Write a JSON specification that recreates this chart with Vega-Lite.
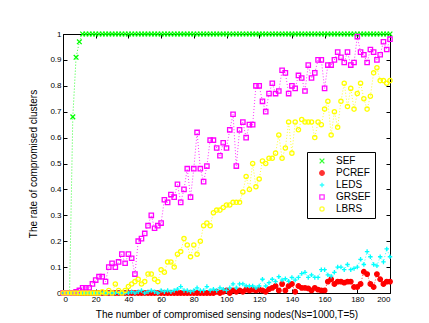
{
"$schema":"https://vega.github.io/schema/vega-lite/v6.json",
"width":327,"height":259,
"autosize":"none",
"padding":{"left":63,"top":34,"right":39,"bottom":30},
"background":"white",
"config":{"view":{"stroke":"black","strokeWidth":1},"font":"Liberation Sans",
"axis":{"labelFont":"Liberation Sans","titleFont":"Liberation Sans","labelColor":"black","titleColor":"black","tickColor":"black","labelFontSize":8,"titleFontSize":10,"titleFontWeight":"normal","domain":false,"grid":false}},
"datasets":{"d":[
{"x":0,"y":0,"s":"SEF"},{"x":2,"y":0,"s":"SEF"},{"x":4,"y":0,"s":"SEF"},{"x":6,"y":0.68,"s":"SEF"},{"x":8,"y":0.91,"s":"SEF"},{"x":10,"y":0.97,"s":"SEF"},{"x":12,"y":1,"s":"SEF"},{"x":14,"y":1,"s":"SEF"},{"x":16,"y":1,"s":"SEF"},{"x":18,"y":1,"s":"SEF"},{"x":20,"y":1,"s":"SEF"},{"x":22,"y":1,"s":"SEF"},{"x":24,"y":1,"s":"SEF"},{"x":26,"y":1,"s":"SEF"},{"x":28,"y":1,"s":"SEF"},{"x":30,"y":1,"s":"SEF"},{"x":32,"y":1,"s":"SEF"},{"x":34,"y":1,"s":"SEF"},{"x":36,"y":1,"s":"SEF"},{"x":38,"y":1,"s":"SEF"},{"x":40,"y":1,"s":"SEF"},{"x":42,"y":1,"s":"SEF"},{"x":44,"y":1,"s":"SEF"},{"x":46,"y":1,"s":"SEF"},{"x":48,"y":1,"s":"SEF"},{"x":50,"y":1,"s":"SEF"},{"x":52,"y":1,"s":"SEF"},{"x":54,"y":1,"s":"SEF"},{"x":56,"y":1,"s":"SEF"},{"x":58,"y":1,"s":"SEF"},{"x":60,"y":1,"s":"SEF"},{"x":62,"y":1,"s":"SEF"},{"x":64,"y":1,"s":"SEF"},{"x":66,"y":1,"s":"SEF"},{"x":68,"y":1,"s":"SEF"},{"x":70,"y":1,"s":"SEF"},{"x":72,"y":1,"s":"SEF"},{"x":74,"y":1,"s":"SEF"},{"x":76,"y":1,"s":"SEF"},{"x":78,"y":1,"s":"SEF"},{"x":80,"y":1,"s":"SEF"},{"x":82,"y":1,"s":"SEF"},{"x":84,"y":1,"s":"SEF"},{"x":86,"y":1,"s":"SEF"},{"x":88,"y":1,"s":"SEF"},{"x":90,"y":1,"s":"SEF"},{"x":92,"y":1,"s":"SEF"},{"x":94,"y":1,"s":"SEF"},{"x":96,"y":1,"s":"SEF"},{"x":98,"y":1,"s":"SEF"},{"x":100,"y":1,"s":"SEF"},{"x":102,"y":1,"s":"SEF"},{"x":104,"y":1,"s":"SEF"},{"x":106,"y":1,"s":"SEF"},{"x":108,"y":1,"s":"SEF"},{"x":110,"y":1,"s":"SEF"},{"x":112,"y":1,"s":"SEF"},{"x":114,"y":1,"s":"SEF"},{"x":116,"y":1,"s":"SEF"},{"x":118,"y":1,"s":"SEF"},{"x":120,"y":1,"s":"SEF"},{"x":122,"y":1,"s":"SEF"},{"x":124,"y":1,"s":"SEF"},{"x":126,"y":1,"s":"SEF"},{"x":128,"y":1,"s":"SEF"},{"x":130,"y":1,"s":"SEF"},{"x":132,"y":1,"s":"SEF"},{"x":134,"y":1,"s":"SEF"},{"x":136,"y":1,"s":"SEF"},{"x":138,"y":1,"s":"SEF"},{"x":140,"y":1,"s":"SEF"},{"x":142,"y":1,"s":"SEF"},{"x":144,"y":1,"s":"SEF"},{"x":146,"y":1,"s":"SEF"},{"x":148,"y":1,"s":"SEF"},{"x":150,"y":1,"s":"SEF"},{"x":152,"y":1,"s":"SEF"},{"x":154,"y":1,"s":"SEF"},{"x":156,"y":1,"s":"SEF"},{"x":158,"y":1,"s":"SEF"},{"x":160,"y":1,"s":"SEF"},{"x":162,"y":1,"s":"SEF"},{"x":164,"y":1,"s":"SEF"},{"x":166,"y":1,"s":"SEF"},{"x":168,"y":1,"s":"SEF"},{"x":170,"y":1,"s":"SEF"},{"x":172,"y":1,"s":"SEF"},{"x":174,"y":1,"s":"SEF"},{"x":176,"y":1,"s":"SEF"},{"x":178,"y":1,"s":"SEF"},{"x":180,"y":1,"s":"SEF"},{"x":182,"y":1,"s":"SEF"},{"x":184,"y":1,"s":"SEF"},{"x":186,"y":1,"s":"SEF"},{"x":188,"y":1,"s":"SEF"},{"x":190,"y":1,"s":"SEF"},{"x":192,"y":1,"s":"SEF"},{"x":194,"y":1,"s":"SEF"},{"x":196,"y":1,"s":"SEF"},{"x":198,"y":1,"s":"SEF"},{"x":200,"y":1,"s":"SEF"},
{"x":0,"y":0,"s":"PCREF"},{"x":2,"y":0,"s":"PCREF"},{"x":4,"y":0,"s":"PCREF"},{"x":6,"y":0,"s":"PCREF"},{"x":8,"y":0,"s":"PCREF"},{"x":10,"y":0,"s":"PCREF"},{"x":12,"y":0,"s":"PCREF"},{"x":14,"y":0,"s":"PCREF"},{"x":16,"y":0,"s":"PCREF"},{"x":18,"y":0,"s":"PCREF"},{"x":20,"y":0,"s":"PCREF"},{"x":22,"y":0,"s":"PCREF"},{"x":24,"y":0,"s":"PCREF"},{"x":26,"y":0,"s":"PCREF"},{"x":28,"y":0,"s":"PCREF"},{"x":30,"y":0,"s":"PCREF"},{"x":32,"y":0,"s":"PCREF"},{"x":34,"y":0,"s":"PCREF"},{"x":36,"y":0,"s":"PCREF"},{"x":38,"y":0,"s":"PCREF"},{"x":40,"y":0,"s":"PCREF"},{"x":42,"y":0,"s":"PCREF"},{"x":44,"y":0,"s":"PCREF"},{"x":46,"y":0,"s":"PCREF"},{"x":48,"y":0,"s":"PCREF"},{"x":50,"y":0,"s":"PCREF"},{"x":52,"y":0,"s":"PCREF"},{"x":54,"y":0,"s":"PCREF"},{"x":56,"y":0,"s":"PCREF"},{"x":58,"y":0,"s":"PCREF"},{"x":60,"y":0,"s":"PCREF"},{"x":62,"y":0,"s":"PCREF"},{"x":64,"y":0,"s":"PCREF"},{"x":66,"y":0,"s":"PCREF"},{"x":68,"y":0,"s":"PCREF"},{"x":70,"y":0,"s":"PCREF"},{"x":72,"y":0,"s":"PCREF"},{"x":74,"y":0,"s":"PCREF"},{"x":76,"y":0,"s":"PCREF"},{"x":78,"y":0,"s":"PCREF"},{"x":80,"y":0,"s":"PCREF"},{"x":82,"y":0,"s":"PCREF"},{"x":84,"y":0,"s":"PCREF"},{"x":86,"y":0,"s":"PCREF"},{"x":88,"y":0,"s":"PCREF"},{"x":90,"y":0,"s":"PCREF"},{"x":92,"y":0,"s":"PCREF"},{"x":94,"y":0.005,"s":"PCREF"},{"x":96,"y":0,"s":"PCREF"},{"x":98,"y":0.005,"s":"PCREF"},{"x":100,"y":0.01,"s":"PCREF"},{"x":102,"y":0,"s":"PCREF"},{"x":104,"y":0.01,"s":"PCREF"},{"x":106,"y":0.005,"s":"PCREF"},{"x":108,"y":0.01,"s":"PCREF"},{"x":110,"y":0.005,"s":"PCREF"},{"x":112,"y":0.013,"s":"PCREF"},{"x":114,"y":0.01,"s":"PCREF"},{"x":116,"y":0.013,"s":"PCREF"},{"x":118,"y":0.01,"s":"PCREF"},{"x":120,"y":0.013,"s":"PCREF"},{"x":122,"y":0.01,"s":"PCREF"},{"x":124,"y":0.005,"s":"PCREF"},{"x":126,"y":0.015,"s":"PCREF"},{"x":128,"y":0.02,"s":"PCREF"},{"x":130,"y":0.027,"s":"PCREF"},{"x":132,"y":0.01,"s":"PCREF"},{"x":134,"y":0.035,"s":"PCREF"},{"x":136,"y":0.01,"s":"PCREF"},{"x":138,"y":0.027,"s":"PCREF"},{"x":140,"y":0.035,"s":"PCREF"},{"x":142,"y":0.005,"s":"PCREF"},{"x":144,"y":0.027,"s":"PCREF"},{"x":146,"y":0.02,"s":"PCREF"},{"x":148,"y":0.02,"s":"PCREF"},{"x":150,"y":0.018,"s":"PCREF"},{"x":152,"y":0.01,"s":"PCREF"},{"x":154,"y":0.02,"s":"PCREF"},{"x":156,"y":0.013,"s":"PCREF"},{"x":158,"y":0.01,"s":"PCREF"},{"x":160,"y":0.01,"s":"PCREF"},{"x":162,"y":0.044,"s":"PCREF"},{"x":164,"y":0.053,"s":"PCREF"},{"x":166,"y":0.035,"s":"PCREF"},{"x":168,"y":0.044,"s":"PCREF"},{"x":170,"y":0.044,"s":"PCREF"},{"x":172,"y":0.04,"s":"PCREF"},{"x":174,"y":0.044,"s":"PCREF"},{"x":176,"y":0.044,"s":"PCREF"},{"x":178,"y":0.023,"s":"PCREF"},{"x":180,"y":0.023,"s":"PCREF"},{"x":182,"y":0.035,"s":"PCREF"},{"x":184,"y":0.082,"s":"PCREF"},{"x":186,"y":0.073,"s":"PCREF"},{"x":188,"y":0.035,"s":"PCREF"},{"x":190,"y":0.023,"s":"PCREF"},{"x":192,"y":0.073,"s":"PCREF"},{"x":194,"y":0.053,"s":"PCREF"},{"x":196,"y":0.035,"s":"PCREF"},{"x":198,"y":0.044,"s":"PCREF"},{"x":200,"y":0.044,"s":"PCREF"},
{"x":0,"y":0,"s":"LEDS"},{"x":2,"y":0,"s":"LEDS"},{"x":4,"y":0,"s":"LEDS"},{"x":6,"y":0,"s":"LEDS"},{"x":8,"y":0,"s":"LEDS"},{"x":10,"y":0,"s":"LEDS"},{"x":12,"y":0,"s":"LEDS"},{"x":14,"y":0,"s":"LEDS"},{"x":16,"y":0,"s":"LEDS"},{"x":18,"y":0,"s":"LEDS"},{"x":20,"y":0,"s":"LEDS"},{"x":22,"y":0,"s":"LEDS"},{"x":24,"y":0,"s":"LEDS"},{"x":26,"y":0,"s":"LEDS"},{"x":28,"y":0,"s":"LEDS"},{"x":30,"y":0,"s":"LEDS"},{"x":32,"y":0,"s":"LEDS"},{"x":34,"y":0,"s":"LEDS"},{"x":36,"y":0,"s":"LEDS"},{"x":38,"y":0,"s":"LEDS"},{"x":40,"y":0,"s":"LEDS"},{"x":42,"y":0.005,"s":"LEDS"},{"x":44,"y":0,"s":"LEDS"},{"x":46,"y":0.005,"s":"LEDS"},{"x":48,"y":0.01,"s":"LEDS"},{"x":50,"y":0,"s":"LEDS"},{"x":52,"y":0.005,"s":"LEDS"},{"x":54,"y":0.01,"s":"LEDS"},{"x":56,"y":0.005,"s":"LEDS"},{"x":58,"y":0,"s":"LEDS"},{"x":60,"y":0.01,"s":"LEDS"},{"x":62,"y":0.005,"s":"LEDS"},{"x":64,"y":0.01,"s":"LEDS"},{"x":66,"y":0.005,"s":"LEDS"},{"x":68,"y":0.01,"s":"LEDS"},{"x":70,"y":0.015,"s":"LEDS"},{"x":72,"y":0.025,"s":"LEDS"},{"x":74,"y":0.01,"s":"LEDS"},{"x":76,"y":0.01,"s":"LEDS"},{"x":78,"y":0.005,"s":"LEDS"},{"x":80,"y":0.01,"s":"LEDS"},{"x":82,"y":0.02,"s":"LEDS"},{"x":84,"y":0.01,"s":"LEDS"},{"x":86,"y":0.01,"s":"LEDS"},{"x":88,"y":0.025,"s":"LEDS"},{"x":90,"y":0.01,"s":"LEDS"},{"x":92,"y":0.015,"s":"LEDS"},{"x":94,"y":0.01,"s":"LEDS"},{"x":96,"y":0.02,"s":"LEDS"},{"x":98,"y":0.015,"s":"LEDS"},{"x":100,"y":0.01,"s":"LEDS"},{"x":102,"y":0.02,"s":"LEDS"},{"x":104,"y":0.035,"s":"LEDS"},{"x":106,"y":0.02,"s":"LEDS"},{"x":108,"y":0.035,"s":"LEDS"},{"x":110,"y":0.035,"s":"LEDS"},{"x":112,"y":0.027,"s":"LEDS"},{"x":114,"y":0.027,"s":"LEDS"},{"x":116,"y":0.027,"s":"LEDS"},{"x":118,"y":0.02,"s":"LEDS"},{"x":120,"y":0.027,"s":"LEDS"},{"x":122,"y":0.053,"s":"LEDS"},{"x":124,"y":0.027,"s":"LEDS"},{"x":126,"y":0.04,"s":"LEDS"},{"x":128,"y":0.053,"s":"LEDS"},{"x":130,"y":0.044,"s":"LEDS"},{"x":132,"y":0.063,"s":"LEDS"},{"x":134,"y":0.05,"s":"LEDS"},{"x":136,"y":0.055,"s":"LEDS"},{"x":138,"y":0.045,"s":"LEDS"},{"x":140,"y":0.06,"s":"LEDS"},{"x":142,"y":0.05,"s":"LEDS"},{"x":144,"y":0.06,"s":"LEDS"},{"x":146,"y":0.075,"s":"LEDS"},{"x":148,"y":0.08,"s":"LEDS"},{"x":150,"y":0.06,"s":"LEDS"},{"x":152,"y":0.07,"s":"LEDS"},{"x":154,"y":0.06,"s":"LEDS"},{"x":156,"y":0.06,"s":"LEDS"},{"x":158,"y":0.09,"s":"LEDS"},{"x":160,"y":0.09,"s":"LEDS"},{"x":162,"y":0.07,"s":"LEDS"},{"x":164,"y":0.065,"s":"LEDS"},{"x":166,"y":0.08,"s":"LEDS"},{"x":168,"y":0.1,"s":"LEDS"},{"x":170,"y":0.1,"s":"LEDS"},{"x":172,"y":0.09,"s":"LEDS"},{"x":174,"y":0.11,"s":"LEDS"},{"x":176,"y":0.09,"s":"LEDS"},{"x":178,"y":0.095,"s":"LEDS"},{"x":180,"y":0.1,"s":"LEDS"},{"x":182,"y":0.13,"s":"LEDS"},{"x":184,"y":0.11,"s":"LEDS"},{"x":186,"y":0.16,"s":"LEDS"},{"x":188,"y":0.14,"s":"LEDS"},{"x":190,"y":0.11,"s":"LEDS"},{"x":192,"y":0.105,"s":"LEDS"},{"x":194,"y":0.14,"s":"LEDS"},{"x":196,"y":0.12,"s":"LEDS"},{"x":198,"y":0.17,"s":"LEDS"},{"x":200,"y":0.14,"s":"LEDS"},
{"x":0,"y":0,"s":"GRSEF"},{"x":2,"y":0,"s":"GRSEF"},{"x":4,"y":0,"s":"GRSEF"},{"x":6,"y":0,"s":"GRSEF"},{"x":8,"y":0.005,"s":"GRSEF"},{"x":10,"y":0.01,"s":"GRSEF"},{"x":12,"y":0.02,"s":"GRSEF"},{"x":14,"y":0.02,"s":"GRSEF"},{"x":16,"y":0.02,"s":"GRSEF"},{"x":18,"y":0.035,"s":"GRSEF"},{"x":20,"y":0.05,"s":"GRSEF"},{"x":22,"y":0.063,"s":"GRSEF"},{"x":24,"y":0.063,"s":"GRSEF"},{"x":26,"y":0.044,"s":"GRSEF"},{"x":28,"y":0.1,"s":"GRSEF"},{"x":30,"y":0.115,"s":"GRSEF"},{"x":32,"y":0.1,"s":"GRSEF"},{"x":34,"y":0.12,"s":"GRSEF"},{"x":36,"y":0.15,"s":"GRSEF"},{"x":38,"y":0.115,"s":"GRSEF"},{"x":40,"y":0.15,"s":"GRSEF"},{"x":42,"y":0.134,"s":"GRSEF"},{"x":44,"y":0.073,"s":"GRSEF"},{"x":46,"y":0.2,"s":"GRSEF"},{"x":48,"y":0.21,"s":"GRSEF"},{"x":50,"y":0.23,"s":"GRSEF"},{"x":52,"y":0.26,"s":"GRSEF"},{"x":54,"y":0.3,"s":"GRSEF"},{"x":56,"y":0.25,"s":"GRSEF"},{"x":58,"y":0.26,"s":"GRSEF"},{"x":60,"y":0.27,"s":"GRSEF"},{"x":62,"y":0.36,"s":"GRSEF"},{"x":64,"y":0.35,"s":"GRSEF"},{"x":66,"y":0.38,"s":"GRSEF"},{"x":68,"y":0.37,"s":"GRSEF"},{"x":70,"y":0.42,"s":"GRSEF"},{"x":72,"y":0.35,"s":"GRSEF"},{"x":74,"y":0.4,"s":"GRSEF"},{"x":76,"y":0.48,"s":"GRSEF"},{"x":78,"y":0.37,"s":"GRSEF"},{"x":80,"y":0.48,"s":"GRSEF"},{"x":82,"y":0.62,"s":"GRSEF"},{"x":84,"y":0.48,"s":"GRSEF"},{"x":86,"y":0.43,"s":"GRSEF"},{"x":88,"y":0.49,"s":"GRSEF"},{"x":90,"y":0.59,"s":"GRSEF"},{"x":92,"y":0.59,"s":"GRSEF"},{"x":94,"y":0.56,"s":"GRSEF"},{"x":96,"y":0.53,"s":"GRSEF"},{"x":98,"y":0.58,"s":"GRSEF"},{"x":100,"y":0.56,"s":"GRSEF"},{"x":102,"y":0.63,"s":"GRSEF"},{"x":104,"y":0.69,"s":"GRSEF"},{"x":106,"y":0.49,"s":"GRSEF"},{"x":108,"y":0.63,"s":"GRSEF"},{"x":110,"y":0.66,"s":"GRSEF"},{"x":112,"y":0.6,"s":"GRSEF"},{"x":114,"y":0.65,"s":"GRSEF"},{"x":116,"y":0.65,"s":"GRSEF"},{"x":118,"y":0.8,"s":"GRSEF"},{"x":120,"y":0.8,"s":"GRSEF"},{"x":122,"y":0.74,"s":"GRSEF"},{"x":124,"y":0.7,"s":"GRSEF"},{"x":126,"y":0.77,"s":"GRSEF"},{"x":128,"y":0.81,"s":"GRSEF"},{"x":130,"y":0.77,"s":"GRSEF"},{"x":132,"y":0.78,"s":"GRSEF"},{"x":134,"y":0.86,"s":"GRSEF"},{"x":136,"y":0.85,"s":"GRSEF"},{"x":138,"y":0.77,"s":"GRSEF"},{"x":140,"y":0.8,"s":"GRSEF"},{"x":142,"y":0.79,"s":"GRSEF"},{"x":144,"y":0.84,"s":"GRSEF"},{"x":146,"y":0.83,"s":"GRSEF"},{"x":148,"y":0.78,"s":"GRSEF"},{"x":150,"y":0.88,"s":"GRSEF"},{"x":152,"y":0.83,"s":"GRSEF"},{"x":154,"y":0.85,"s":"GRSEF"},{"x":156,"y":0.9,"s":"GRSEF"},{"x":158,"y":0.9,"s":"GRSEF"},{"x":160,"y":0.79,"s":"GRSEF"},{"x":162,"y":0.88,"s":"GRSEF"},{"x":164,"y":0.88,"s":"GRSEF"},{"x":166,"y":0.9,"s":"GRSEF"},{"x":168,"y":0.93,"s":"GRSEF"},{"x":170,"y":0.91,"s":"GRSEF"},{"x":172,"y":0.89,"s":"GRSEF"},{"x":174,"y":0.93,"s":"GRSEF"},{"x":176,"y":0.88,"s":"GRSEF"},{"x":178,"y":0.89,"s":"GRSEF"},{"x":180,"y":0.99,"s":"GRSEF"},{"x":182,"y":0.93,"s":"GRSEF"},{"x":184,"y":0.92,"s":"GRSEF"},{"x":186,"y":0.89,"s":"GRSEF"},{"x":188,"y":0.94,"s":"GRSEF"},{"x":190,"y":0.93,"s":"GRSEF"},{"x":192,"y":0.9,"s":"GRSEF"},{"x":194,"y":0.92,"s":"GRSEF"},{"x":196,"y":0.97,"s":"GRSEF"},{"x":198,"y":0.94,"s":"GRSEF"},{"x":200,"y":0.98,"s":"GRSEF"},
{"x":0,"y":0,"s":"LBRS"},{"x":2,"y":0,"s":"LBRS"},{"x":4,"y":0,"s":"LBRS"},{"x":6,"y":0,"s":"LBRS"},{"x":8,"y":0,"s":"LBRS"},{"x":10,"y":0,"s":"LBRS"},{"x":12,"y":0,"s":"LBRS"},{"x":14,"y":0,"s":"LBRS"},{"x":16,"y":0,"s":"LBRS"},{"x":18,"y":0,"s":"LBRS"},{"x":20,"y":0,"s":"LBRS"},{"x":22,"y":0,"s":"LBRS"},{"x":24,"y":0.005,"s":"LBRS"},{"x":26,"y":0,"s":"LBRS"},{"x":28,"y":0.01,"s":"LBRS"},{"x":30,"y":0,"s":"LBRS"},{"x":32,"y":0.035,"s":"LBRS"},{"x":34,"y":0.01,"s":"LBRS"},{"x":36,"y":0,"s":"LBRS"},{"x":38,"y":0.01,"s":"LBRS"},{"x":40,"y":0.025,"s":"LBRS"},{"x":42,"y":0.035,"s":"LBRS"},{"x":44,"y":0.044,"s":"LBRS"},{"x":46,"y":0.053,"s":"LBRS"},{"x":48,"y":0.035,"s":"LBRS"},{"x":50,"y":0.044,"s":"LBRS"},{"x":52,"y":0.073,"s":"LBRS"},{"x":54,"y":0.073,"s":"LBRS"},{"x":56,"y":0.053,"s":"LBRS"},{"x":58,"y":0.044,"s":"LBRS"},{"x":60,"y":0.09,"s":"LBRS"},{"x":62,"y":0.08,"s":"LBRS"},{"x":64,"y":0.12,"s":"LBRS"},{"x":66,"y":0.12,"s":"LBRS"},{"x":68,"y":0.1,"s":"LBRS"},{"x":70,"y":0.15,"s":"LBRS"},{"x":72,"y":0.16,"s":"LBRS"},{"x":74,"y":0.21,"s":"LBRS"},{"x":76,"y":0.185,"s":"LBRS"},{"x":78,"y":0.14,"s":"LBRS"},{"x":80,"y":0.185,"s":"LBRS"},{"x":82,"y":0.15,"s":"LBRS"},{"x":84,"y":0.2,"s":"LBRS"},{"x":86,"y":0.26,"s":"LBRS"},{"x":88,"y":0.27,"s":"LBRS"},{"x":90,"y":0.26,"s":"LBRS"},{"x":92,"y":0.31,"s":"LBRS"},{"x":94,"y":0.32,"s":"LBRS"},{"x":96,"y":0.32,"s":"LBRS"},{"x":98,"y":0.33,"s":"LBRS"},{"x":100,"y":0.34,"s":"LBRS"},{"x":102,"y":0.34,"s":"LBRS"},{"x":104,"y":0.35,"s":"LBRS"},{"x":106,"y":0.35,"s":"LBRS"},{"x":108,"y":0.35,"s":"LBRS"},{"x":110,"y":0.39,"s":"LBRS"},{"x":112,"y":0.45,"s":"LBRS"},{"x":114,"y":0.4,"s":"LBRS"},{"x":116,"y":0.5,"s":"LBRS"},{"x":118,"y":0.41,"s":"LBRS"},{"x":120,"y":0.44,"s":"LBRS"},{"x":122,"y":0.51,"s":"LBRS"},{"x":124,"y":0.5,"s":"LBRS"},{"x":126,"y":0.52,"s":"LBRS"},{"x":128,"y":0.52,"s":"LBRS"},{"x":130,"y":0.54,"s":"LBRS"},{"x":132,"y":0.61,"s":"LBRS"},{"x":134,"y":0.52,"s":"LBRS"},{"x":136,"y":0.56,"s":"LBRS"},{"x":138,"y":0.66,"s":"LBRS"},{"x":140,"y":0.54,"s":"LBRS"},{"x":142,"y":0.66,"s":"LBRS"},{"x":144,"y":0.63,"s":"LBRS"},{"x":146,"y":0.67,"s":"LBRS"},{"x":148,"y":0.66,"s":"LBRS"},{"x":150,"y":0.66,"s":"LBRS"},{"x":152,"y":0.66,"s":"LBRS"},{"x":154,"y":0.6,"s":"LBRS"},{"x":156,"y":0.66,"s":"LBRS"},{"x":158,"y":0.65,"s":"LBRS"},{"x":160,"y":0.71,"s":"LBRS"},{"x":162,"y":0.74,"s":"LBRS"},{"x":164,"y":0.61,"s":"LBRS"},{"x":166,"y":0.7,"s":"LBRS"},{"x":168,"y":0.64,"s":"LBRS"},{"x":170,"y":0.74,"s":"LBRS"},{"x":172,"y":0.81,"s":"LBRS"},{"x":174,"y":0.72,"s":"LBRS"},{"x":176,"y":0.79,"s":"LBRS"},{"x":178,"y":0.71,"s":"LBRS"},{"x":180,"y":0.77,"s":"LBRS"},{"x":182,"y":0.81,"s":"LBRS"},{"x":184,"y":0.75,"s":"LBRS"},{"x":186,"y":0.71,"s":"LBRS"},{"x":188,"y":0.76,"s":"LBRS"},{"x":190,"y":0.85,"s":"LBRS"},{"x":192,"y":0.87,"s":"LBRS"},{"x":194,"y":0.82,"s":"LBRS"},{"x":196,"y":0.82,"s":"LBRS"},{"x":198,"y":0.81,"s":"LBRS"},{"x":200,"y":0.82,"s":"LBRS"}
]},
"data":{"name":"d"},
"layer":[
{"mark":{"type":"line","strokeDash":[1,2],"strokeWidth":1,"opacity":0.8},
 "encoding":{
  "x":{"field":"x","type":"quantitative","scale":{"domain":[0,200],"nice":false},"axis":{"orient":"top","values":[0,20,40,60,80,100,120,140,160,180,200],"labels":false,"title":null,"tickSize":-4}},
  "y":{"field":"y","type":"quantitative","scale":{"domain":[0,1],"nice":false},"axis":{"orient":"right","values":[0,0.1,0.2,0.3,0.4,0.5,0.6,0.7,0.8,0.9,1],"labels":false,"title":null,"tickSize":-4}},
  "color":{"field":"s","type":"nominal","scale":{"domain":["SEF","PCREF","LEDS","GRSEF","LBRS"],"range":["#00ff00","#ff0000","#00ffff","#ff00ff","#ffff00"]}},
  "detail":{"field":"s"}
 }},
{"mark":{"type":"point","filled":false,"strokeWidth":1.3,"opacity":1},
 "encoding":{
  "x":{"field":"x","type":"quantitative","axis":{"orient":"bottom","values":[0,20,40,60,80,100,120,140,160,180,200],"tickSize":-4,"labelPadding":6,"title":"The number of compromised sensing nodes(Ns=1000,T=5)","titlePadding":6}},
  "y":{"field":"y","type":"quantitative","axis":{"orient":"left","values":[0,0.1,0.2,0.3,0.4,0.5,0.6,0.7,0.8,0.9,1],"format":"~g","tickSize":-4,"labelPadding":6,"title":"The rate of compromised clusters","titlePadding":11}},
  "color":{"field":"s","type":"nominal","scale":{"domain":["SEF","PCREF","LEDS","GRSEF","LBRS"],"range":["#00ff00","#ff0000","#00ffff","#ff00ff","#ffff00"]},
   "legend":{"title":null,"orient":"none","legendX":244,"legendY":118,"strokeColor":"black","fillColor":"white","padding":4,"symbolOffset":6,"rowPadding":2,"labelFontSize":10,"labelFont":"Liberation Sans","labelColor":"black","labelOffset":9,"symbolStrokeWidth":1.3}},
  "fill":{"field":"s","type":"nominal","scale":{"domain":["SEF","PCREF","LEDS","GRSEF","LBRS"],"range":["transparent","#ff0000","transparent","transparent","transparent"]}},
  "shape":{"field":"s","type":"nominal","scale":{"domain":["SEF","PCREF","LEDS","GRSEF","LBRS"],"range":["M-1,-1L1,1M-1,1L1,-1","circle","M-1,0L1,0M0,-1L0,1","square","circle"]}},
  "size":{"field":"s","type":"nominal","scale":{"domain":["SEF","PCREF","LEDS","GRSEF","LBRS"],"range":[22,18,40,28,40]}}
 }}
],
"resolve":{"axis":{"x":"independent","y":"independent"}}
}
